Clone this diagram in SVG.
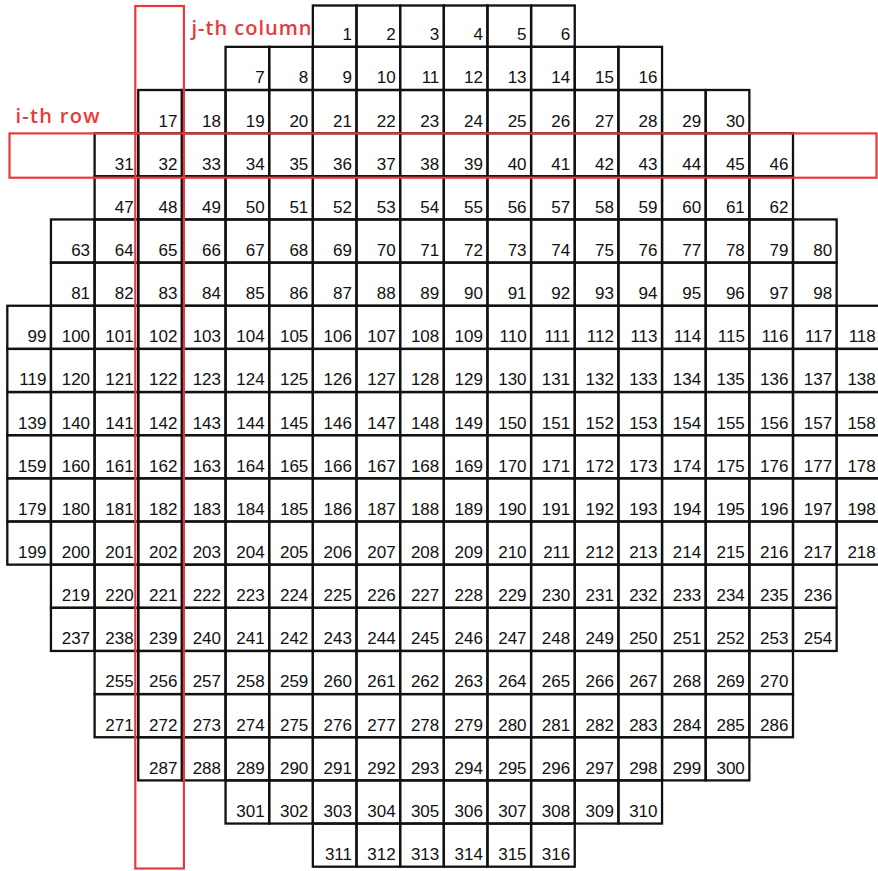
<svg xmlns="http://www.w3.org/2000/svg" width="878" height="871" viewBox="0 0 878 871">
<style>
.grid rect{fill:none;stroke:#111;stroke-width:2.3}
.grid text{font-family:"Liberation Sans",Arial,sans-serif;font-size:17px;fill:#111;text-anchor:end}
.sel{fill:none;stroke:#e63b3e;stroke-width:2.2}
.lab{font-family:"Open Sans","DejaVu Sans",sans-serif;font-weight:600;font-size:20px;fill:#e63b3e}
</style>
<rect width="878" height="871" fill="#fff"/>
<text class="lab" x="191.5" y="35" textLength="120" lengthAdjust="spacing">j-th column</text>
<text class="lab" x="15.5" y="123" textLength="84" lengthAdjust="spacing">i-th row</text>
<g class="grid">
<g id="row1" transform="translate(0 3.7)">
<g id="n1" transform="translate(312.85 0)"><rect y="1.8" width="43.65" height="41.35"/><text x="39.15" y="36.5">1</text></g>
<g id="n2" transform="translate(356.5 0)"><rect y="1.8" width="43.65" height="41.35"/><text x="39.15" y="36.5">2</text></g>
<g id="n3" transform="translate(400.15 0)"><rect y="1.8" width="43.65" height="41.35"/><text x="39.15" y="36.5">3</text></g>
<g id="n4" transform="translate(443.8 0)"><rect y="1.8" width="43.65" height="41.35"/><text x="39.15" y="36.5">4</text></g>
<g id="n5" transform="translate(487.45 0)"><rect y="1.8" width="43.65" height="41.35"/><text x="39.15" y="36.5">5</text></g>
<g id="n6" transform="translate(531.1 0)"><rect y="1.8" width="43.65" height="41.35"/><text x="39.15" y="36.5">6</text></g>
</g>
<g id="row2" transform="translate(0 46.85)">
<g id="n7" transform="translate(225.55 0)"><rect width="43.65" height="43.15"/><text x="39.15" y="36.5">7</text></g>
<g id="n8" transform="translate(269.2 0)"><rect width="43.65" height="43.15"/><text x="39.15" y="36.5">8</text></g>
<g id="n9" transform="translate(312.85 0)"><rect width="43.65" height="43.15"/><text x="39.15" y="36.5">9</text></g>
<g id="n10" transform="translate(356.5 0)"><rect width="43.65" height="43.15"/><text x="39.15" y="36.5">10</text></g>
<g id="n11" transform="translate(400.15 0)"><rect width="43.65" height="43.15"/><text x="39.15" y="36.5">11</text></g>
<g id="n12" transform="translate(443.8 0)"><rect width="43.65" height="43.15"/><text x="39.15" y="36.5">12</text></g>
<g id="n13" transform="translate(487.45 0)"><rect width="43.65" height="43.15"/><text x="39.15" y="36.5">13</text></g>
<g id="n14" transform="translate(531.1 0)"><rect width="43.65" height="43.15"/><text x="39.15" y="36.5">14</text></g>
<g id="n15" transform="translate(574.75 0)"><rect width="43.65" height="43.15"/><text x="39.15" y="36.5">15</text></g>
<g id="n16" transform="translate(618.4 0)"><rect width="43.65" height="43.15"/><text x="39.15" y="36.5">16</text></g>
</g>
<g id="row3" transform="translate(0 90)">
<g id="n17" transform="translate(138.25 0)"><rect width="43.65" height="43.15"/><text x="39.15" y="36.5">17</text></g>
<g id="n18" transform="translate(181.9 0)"><rect width="43.65" height="43.15"/><text x="39.15" y="36.5">18</text></g>
<g id="n19" transform="translate(225.55 0)"><rect width="43.65" height="43.15"/><text x="39.15" y="36.5">19</text></g>
<g id="n20" transform="translate(269.2 0)"><rect width="43.65" height="43.15"/><text x="39.15" y="36.5">20</text></g>
<g id="n21" transform="translate(312.85 0)"><rect width="43.65" height="43.15"/><text x="39.15" y="36.5">21</text></g>
<g id="n22" transform="translate(356.5 0)"><rect width="43.65" height="43.15"/><text x="39.15" y="36.5">22</text></g>
<g id="n23" transform="translate(400.15 0)"><rect width="43.65" height="43.15"/><text x="39.15" y="36.5">23</text></g>
<g id="n24" transform="translate(443.8 0)"><rect width="43.65" height="43.15"/><text x="39.15" y="36.5">24</text></g>
<g id="n25" transform="translate(487.45 0)"><rect width="43.65" height="43.15"/><text x="39.15" y="36.5">25</text></g>
<g id="n26" transform="translate(531.1 0)"><rect width="43.65" height="43.15"/><text x="39.15" y="36.5">26</text></g>
<g id="n27" transform="translate(574.75 0)"><rect width="43.65" height="43.15"/><text x="39.15" y="36.5">27</text></g>
<g id="n28" transform="translate(618.4 0)"><rect width="43.65" height="43.15"/><text x="39.15" y="36.5">28</text></g>
<g id="n29" transform="translate(662.05 0)"><rect width="43.65" height="43.15"/><text x="39.15" y="36.5">29</text></g>
<g id="n30" transform="translate(705.7 0)"><rect width="43.65" height="43.15"/><text x="39.15" y="36.5">30</text></g>
</g>
<g id="row4" transform="translate(0 133.15)">
<g id="n31" transform="translate(94.6 0)"><rect width="43.65" height="43.15"/><text x="39.15" y="36.5">31</text></g>
<g id="n32" transform="translate(138.25 0)"><rect width="43.65" height="43.15"/><text x="39.15" y="36.5">32</text></g>
<g id="n33" transform="translate(181.9 0)"><rect width="43.65" height="43.15"/><text x="39.15" y="36.5">33</text></g>
<g id="n34" transform="translate(225.55 0)"><rect width="43.65" height="43.15"/><text x="39.15" y="36.5">34</text></g>
<g id="n35" transform="translate(269.2 0)"><rect width="43.65" height="43.15"/><text x="39.15" y="36.5">35</text></g>
<g id="n36" transform="translate(312.85 0)"><rect width="43.65" height="43.15"/><text x="39.15" y="36.5">36</text></g>
<g id="n37" transform="translate(356.5 0)"><rect width="43.65" height="43.15"/><text x="39.15" y="36.5">37</text></g>
<g id="n38" transform="translate(400.15 0)"><rect width="43.65" height="43.15"/><text x="39.15" y="36.5">38</text></g>
<g id="n39" transform="translate(443.8 0)"><rect width="43.65" height="43.15"/><text x="39.15" y="36.5">39</text></g>
<g id="n40" transform="translate(487.45 0)"><rect width="43.65" height="43.15"/><text x="39.15" y="36.5">40</text></g>
<g id="n41" transform="translate(531.1 0)"><rect width="43.65" height="43.15"/><text x="39.15" y="36.5">41</text></g>
<g id="n42" transform="translate(574.75 0)"><rect width="43.65" height="43.15"/><text x="39.15" y="36.5">42</text></g>
<g id="n43" transform="translate(618.4 0)"><rect width="43.65" height="43.15"/><text x="39.15" y="36.5">43</text></g>
<g id="n44" transform="translate(662.05 0)"><rect width="43.65" height="43.15"/><text x="39.15" y="36.5">44</text></g>
<g id="n45" transform="translate(705.7 0)"><rect width="43.65" height="43.15"/><text x="39.15" y="36.5">45</text></g>
<g id="n46" transform="translate(749.35 0)"><rect width="43.65" height="43.15"/><text x="39.15" y="36.5">46</text></g>
</g>
<g id="row5" transform="translate(0 176.3)">
<g id="n47" transform="translate(94.6 0)"><rect width="43.65" height="43.15"/><text x="39.15" y="36.5">47</text></g>
<g id="n48" transform="translate(138.25 0)"><rect width="43.65" height="43.15"/><text x="39.15" y="36.5">48</text></g>
<g id="n49" transform="translate(181.9 0)"><rect width="43.65" height="43.15"/><text x="39.15" y="36.5">49</text></g>
<g id="n50" transform="translate(225.55 0)"><rect width="43.65" height="43.15"/><text x="39.15" y="36.5">50</text></g>
<g id="n51" transform="translate(269.2 0)"><rect width="43.65" height="43.15"/><text x="39.15" y="36.5">51</text></g>
<g id="n52" transform="translate(312.85 0)"><rect width="43.65" height="43.15"/><text x="39.15" y="36.5">52</text></g>
<g id="n53" transform="translate(356.5 0)"><rect width="43.65" height="43.15"/><text x="39.15" y="36.5">53</text></g>
<g id="n54" transform="translate(400.15 0)"><rect width="43.65" height="43.15"/><text x="39.15" y="36.5">54</text></g>
<g id="n55" transform="translate(443.8 0)"><rect width="43.65" height="43.15"/><text x="39.15" y="36.5">55</text></g>
<g id="n56" transform="translate(487.45 0)"><rect width="43.65" height="43.15"/><text x="39.15" y="36.5">56</text></g>
<g id="n57" transform="translate(531.1 0)"><rect width="43.65" height="43.15"/><text x="39.15" y="36.5">57</text></g>
<g id="n58" transform="translate(574.75 0)"><rect width="43.65" height="43.15"/><text x="39.15" y="36.5">58</text></g>
<g id="n59" transform="translate(618.4 0)"><rect width="43.65" height="43.15"/><text x="39.15" y="36.5">59</text></g>
<g id="n60" transform="translate(662.05 0)"><rect width="43.65" height="43.15"/><text x="39.15" y="36.5">60</text></g>
<g id="n61" transform="translate(705.7 0)"><rect width="43.65" height="43.15"/><text x="39.15" y="36.5">61</text></g>
<g id="n62" transform="translate(749.35 0)"><rect width="43.65" height="43.15"/><text x="39.15" y="36.5">62</text></g>
</g>
<g id="row6" transform="translate(0 219.45)">
<g id="n63" transform="translate(50.95 0)"><rect width="43.65" height="43.15"/><text x="39.15" y="36.5">63</text></g>
<g id="n64" transform="translate(94.6 0)"><rect width="43.65" height="43.15"/><text x="39.15" y="36.5">64</text></g>
<g id="n65" transform="translate(138.25 0)"><rect width="43.65" height="43.15"/><text x="39.15" y="36.5">65</text></g>
<g id="n66" transform="translate(181.9 0)"><rect width="43.65" height="43.15"/><text x="39.15" y="36.5">66</text></g>
<g id="n67" transform="translate(225.55 0)"><rect width="43.65" height="43.15"/><text x="39.15" y="36.5">67</text></g>
<g id="n68" transform="translate(269.2 0)"><rect width="43.65" height="43.15"/><text x="39.15" y="36.5">68</text></g>
<g id="n69" transform="translate(312.85 0)"><rect width="43.65" height="43.15"/><text x="39.15" y="36.5">69</text></g>
<g id="n70" transform="translate(356.5 0)"><rect width="43.65" height="43.15"/><text x="39.15" y="36.5">70</text></g>
<g id="n71" transform="translate(400.15 0)"><rect width="43.65" height="43.15"/><text x="39.15" y="36.5">71</text></g>
<g id="n72" transform="translate(443.8 0)"><rect width="43.65" height="43.15"/><text x="39.15" y="36.5">72</text></g>
<g id="n73" transform="translate(487.45 0)"><rect width="43.65" height="43.15"/><text x="39.15" y="36.5">73</text></g>
<g id="n74" transform="translate(531.1 0)"><rect width="43.65" height="43.15"/><text x="39.15" y="36.5">74</text></g>
<g id="n75" transform="translate(574.75 0)"><rect width="43.65" height="43.15"/><text x="39.15" y="36.5">75</text></g>
<g id="n76" transform="translate(618.4 0)"><rect width="43.65" height="43.15"/><text x="39.15" y="36.5">76</text></g>
<g id="n77" transform="translate(662.05 0)"><rect width="43.65" height="43.15"/><text x="39.15" y="36.5">77</text></g>
<g id="n78" transform="translate(705.7 0)"><rect width="43.65" height="43.15"/><text x="39.15" y="36.5">78</text></g>
<g id="n79" transform="translate(749.35 0)"><rect width="43.65" height="43.15"/><text x="39.15" y="36.5">79</text></g>
<g id="n80" transform="translate(793 0)"><rect width="43.65" height="43.15"/><text x="39.15" y="36.5">80</text></g>
</g>
<g id="row7" transform="translate(0 262.6)">
<g id="n81" transform="translate(50.95 0)"><rect width="43.65" height="43.15"/><text x="39.15" y="36.5">81</text></g>
<g id="n82" transform="translate(94.6 0)"><rect width="43.65" height="43.15"/><text x="39.15" y="36.5">82</text></g>
<g id="n83" transform="translate(138.25 0)"><rect width="43.65" height="43.15"/><text x="39.15" y="36.5">83</text></g>
<g id="n84" transform="translate(181.9 0)"><rect width="43.65" height="43.15"/><text x="39.15" y="36.5">84</text></g>
<g id="n85" transform="translate(225.55 0)"><rect width="43.65" height="43.15"/><text x="39.15" y="36.5">85</text></g>
<g id="n86" transform="translate(269.2 0)"><rect width="43.65" height="43.15"/><text x="39.15" y="36.5">86</text></g>
<g id="n87" transform="translate(312.85 0)"><rect width="43.65" height="43.15"/><text x="39.15" y="36.5">87</text></g>
<g id="n88" transform="translate(356.5 0)"><rect width="43.65" height="43.15"/><text x="39.15" y="36.5">88</text></g>
<g id="n89" transform="translate(400.15 0)"><rect width="43.65" height="43.15"/><text x="39.15" y="36.5">89</text></g>
<g id="n90" transform="translate(443.8 0)"><rect width="43.65" height="43.15"/><text x="39.15" y="36.5">90</text></g>
<g id="n91" transform="translate(487.45 0)"><rect width="43.65" height="43.15"/><text x="39.15" y="36.5">91</text></g>
<g id="n92" transform="translate(531.1 0)"><rect width="43.65" height="43.15"/><text x="39.15" y="36.5">92</text></g>
<g id="n93" transform="translate(574.75 0)"><rect width="43.65" height="43.15"/><text x="39.15" y="36.5">93</text></g>
<g id="n94" transform="translate(618.4 0)"><rect width="43.65" height="43.15"/><text x="39.15" y="36.5">94</text></g>
<g id="n95" transform="translate(662.05 0)"><rect width="43.65" height="43.15"/><text x="39.15" y="36.5">95</text></g>
<g id="n96" transform="translate(705.7 0)"><rect width="43.65" height="43.15"/><text x="39.15" y="36.5">96</text></g>
<g id="n97" transform="translate(749.35 0)"><rect width="43.65" height="43.15"/><text x="39.15" y="36.5">97</text></g>
<g id="n98" transform="translate(793 0)"><rect width="43.65" height="43.15"/><text x="39.15" y="36.5">98</text></g>
</g>
<g id="row8" transform="translate(0 305.75)">
<g id="n99" transform="translate(7.3 0)"><rect width="43.65" height="43.15"/><text x="39.15" y="36.5">99</text></g>
<g id="n100" transform="translate(50.95 0)"><rect width="43.65" height="43.15"/><text x="39.15" y="36.5">100</text></g>
<g id="n101" transform="translate(94.6 0)"><rect width="43.65" height="43.15"/><text x="39.15" y="36.5">101</text></g>
<g id="n102" transform="translate(138.25 0)"><rect width="43.65" height="43.15"/><text x="39.15" y="36.5">102</text></g>
<g id="n103" transform="translate(181.9 0)"><rect width="43.65" height="43.15"/><text x="39.15" y="36.5">103</text></g>
<g id="n104" transform="translate(225.55 0)"><rect width="43.65" height="43.15"/><text x="39.15" y="36.5">104</text></g>
<g id="n105" transform="translate(269.2 0)"><rect width="43.65" height="43.15"/><text x="39.15" y="36.5">105</text></g>
<g id="n106" transform="translate(312.85 0)"><rect width="43.65" height="43.15"/><text x="39.15" y="36.5">106</text></g>
<g id="n107" transform="translate(356.5 0)"><rect width="43.65" height="43.15"/><text x="39.15" y="36.5">107</text></g>
<g id="n108" transform="translate(400.15 0)"><rect width="43.65" height="43.15"/><text x="39.15" y="36.5">108</text></g>
<g id="n109" transform="translate(443.8 0)"><rect width="43.65" height="43.15"/><text x="39.15" y="36.5">109</text></g>
<g id="n110" transform="translate(487.45 0)"><rect width="43.65" height="43.15"/><text x="39.15" y="36.5">110</text></g>
<g id="n111" transform="translate(531.1 0)"><rect width="43.65" height="43.15"/><text x="39.15" y="36.5">111</text></g>
<g id="n112" transform="translate(574.75 0)"><rect width="43.65" height="43.15"/><text x="39.15" y="36.5">112</text></g>
<g id="n113" transform="translate(618.4 0)"><rect width="43.65" height="43.15"/><text x="39.15" y="36.5">113</text></g>
<g id="n114" transform="translate(662.05 0)"><rect width="43.65" height="43.15"/><text x="39.15" y="36.5">114</text></g>
<g id="n115" transform="translate(705.7 0)"><rect width="43.65" height="43.15"/><text x="39.15" y="36.5">115</text></g>
<g id="n116" transform="translate(749.35 0)"><rect width="43.65" height="43.15"/><text x="39.15" y="36.5">116</text></g>
<g id="n117" transform="translate(793 0)"><rect width="43.65" height="43.15"/><text x="39.15" y="36.5">117</text></g>
<g id="n118" transform="translate(836.65 0)"><rect width="43.65" height="43.15"/><text x="39.15" y="36.5">118</text></g>
</g>
<g id="row9" transform="translate(0 348.9)">
<g id="n119" transform="translate(7.3 0)"><rect width="43.65" height="43.15"/><text x="39.15" y="36.5">119</text></g>
<g id="n120" transform="translate(50.95 0)"><rect width="43.65" height="43.15"/><text x="39.15" y="36.5">120</text></g>
<g id="n121" transform="translate(94.6 0)"><rect width="43.65" height="43.15"/><text x="39.15" y="36.5">121</text></g>
<g id="n122" transform="translate(138.25 0)"><rect width="43.65" height="43.15"/><text x="39.15" y="36.5">122</text></g>
<g id="n123" transform="translate(181.9 0)"><rect width="43.65" height="43.15"/><text x="39.15" y="36.5">123</text></g>
<g id="n124" transform="translate(225.55 0)"><rect width="43.65" height="43.15"/><text x="39.15" y="36.5">124</text></g>
<g id="n125" transform="translate(269.2 0)"><rect width="43.65" height="43.15"/><text x="39.15" y="36.5">125</text></g>
<g id="n126" transform="translate(312.85 0)"><rect width="43.65" height="43.15"/><text x="39.15" y="36.5">126</text></g>
<g id="n127" transform="translate(356.5 0)"><rect width="43.65" height="43.15"/><text x="39.15" y="36.5">127</text></g>
<g id="n128" transform="translate(400.15 0)"><rect width="43.65" height="43.15"/><text x="39.15" y="36.5">128</text></g>
<g id="n129" transform="translate(443.8 0)"><rect width="43.65" height="43.15"/><text x="39.15" y="36.5">129</text></g>
<g id="n130" transform="translate(487.45 0)"><rect width="43.65" height="43.15"/><text x="39.15" y="36.5">130</text></g>
<g id="n131" transform="translate(531.1 0)"><rect width="43.65" height="43.15"/><text x="39.15" y="36.5">131</text></g>
<g id="n132" transform="translate(574.75 0)"><rect width="43.65" height="43.15"/><text x="39.15" y="36.5">132</text></g>
<g id="n133" transform="translate(618.4 0)"><rect width="43.65" height="43.15"/><text x="39.15" y="36.5">133</text></g>
<g id="n134" transform="translate(662.05 0)"><rect width="43.65" height="43.15"/><text x="39.15" y="36.5">134</text></g>
<g id="n135" transform="translate(705.7 0)"><rect width="43.65" height="43.15"/><text x="39.15" y="36.5">135</text></g>
<g id="n136" transform="translate(749.35 0)"><rect width="43.65" height="43.15"/><text x="39.15" y="36.5">136</text></g>
<g id="n137" transform="translate(793 0)"><rect width="43.65" height="43.15"/><text x="39.15" y="36.5">137</text></g>
<g id="n138" transform="translate(836.65 0)"><rect width="43.65" height="43.15"/><text x="39.15" y="36.5">138</text></g>
</g>
<g id="row10" transform="translate(0 392.05)">
<g id="n139" transform="translate(7.3 0)"><rect width="43.65" height="43.15"/><text x="39.15" y="36.5">139</text></g>
<g id="n140" transform="translate(50.95 0)"><rect width="43.65" height="43.15"/><text x="39.15" y="36.5">140</text></g>
<g id="n141" transform="translate(94.6 0)"><rect width="43.65" height="43.15"/><text x="39.15" y="36.5">141</text></g>
<g id="n142" transform="translate(138.25 0)"><rect width="43.65" height="43.15"/><text x="39.15" y="36.5">142</text></g>
<g id="n143" transform="translate(181.9 0)"><rect width="43.65" height="43.15"/><text x="39.15" y="36.5">143</text></g>
<g id="n144" transform="translate(225.55 0)"><rect width="43.65" height="43.15"/><text x="39.15" y="36.5">144</text></g>
<g id="n145" transform="translate(269.2 0)"><rect width="43.65" height="43.15"/><text x="39.15" y="36.5">145</text></g>
<g id="n146" transform="translate(312.85 0)"><rect width="43.65" height="43.15"/><text x="39.15" y="36.5">146</text></g>
<g id="n147" transform="translate(356.5 0)"><rect width="43.65" height="43.15"/><text x="39.15" y="36.5">147</text></g>
<g id="n148" transform="translate(400.15 0)"><rect width="43.65" height="43.15"/><text x="39.15" y="36.5">148</text></g>
<g id="n149" transform="translate(443.8 0)"><rect width="43.65" height="43.15"/><text x="39.15" y="36.5">149</text></g>
<g id="n150" transform="translate(487.45 0)"><rect width="43.65" height="43.15"/><text x="39.15" y="36.5">150</text></g>
<g id="n151" transform="translate(531.1 0)"><rect width="43.65" height="43.15"/><text x="39.15" y="36.5">151</text></g>
<g id="n152" transform="translate(574.75 0)"><rect width="43.65" height="43.15"/><text x="39.15" y="36.5">152</text></g>
<g id="n153" transform="translate(618.4 0)"><rect width="43.65" height="43.15"/><text x="39.15" y="36.5">153</text></g>
<g id="n154" transform="translate(662.05 0)"><rect width="43.65" height="43.15"/><text x="39.15" y="36.5">154</text></g>
<g id="n155" transform="translate(705.7 0)"><rect width="43.65" height="43.15"/><text x="39.15" y="36.5">155</text></g>
<g id="n156" transform="translate(749.35 0)"><rect width="43.65" height="43.15"/><text x="39.15" y="36.5">156</text></g>
<g id="n157" transform="translate(793 0)"><rect width="43.65" height="43.15"/><text x="39.15" y="36.5">157</text></g>
<g id="n158" transform="translate(836.65 0)"><rect width="43.65" height="43.15"/><text x="39.15" y="36.5">158</text></g>
</g>
<g id="row11" transform="translate(0 435.2)">
<g id="n159" transform="translate(7.3 0)"><rect width="43.65" height="43.15"/><text x="39.15" y="36.5">159</text></g>
<g id="n160" transform="translate(50.95 0)"><rect width="43.65" height="43.15"/><text x="39.15" y="36.5">160</text></g>
<g id="n161" transform="translate(94.6 0)"><rect width="43.65" height="43.15"/><text x="39.15" y="36.5">161</text></g>
<g id="n162" transform="translate(138.25 0)"><rect width="43.65" height="43.15"/><text x="39.15" y="36.5">162</text></g>
<g id="n163" transform="translate(181.9 0)"><rect width="43.65" height="43.15"/><text x="39.15" y="36.5">163</text></g>
<g id="n164" transform="translate(225.55 0)"><rect width="43.65" height="43.15"/><text x="39.15" y="36.5">164</text></g>
<g id="n165" transform="translate(269.2 0)"><rect width="43.65" height="43.15"/><text x="39.15" y="36.5">165</text></g>
<g id="n166" transform="translate(312.85 0)"><rect width="43.65" height="43.15"/><text x="39.15" y="36.5">166</text></g>
<g id="n167" transform="translate(356.5 0)"><rect width="43.65" height="43.15"/><text x="39.15" y="36.5">167</text></g>
<g id="n168" transform="translate(400.15 0)"><rect width="43.65" height="43.15"/><text x="39.15" y="36.5">168</text></g>
<g id="n169" transform="translate(443.8 0)"><rect width="43.65" height="43.15"/><text x="39.15" y="36.5">169</text></g>
<g id="n170" transform="translate(487.45 0)"><rect width="43.65" height="43.15"/><text x="39.15" y="36.5">170</text></g>
<g id="n171" transform="translate(531.1 0)"><rect width="43.65" height="43.15"/><text x="39.15" y="36.5">171</text></g>
<g id="n172" transform="translate(574.75 0)"><rect width="43.65" height="43.15"/><text x="39.15" y="36.5">172</text></g>
<g id="n173" transform="translate(618.4 0)"><rect width="43.65" height="43.15"/><text x="39.15" y="36.5">173</text></g>
<g id="n174" transform="translate(662.05 0)"><rect width="43.65" height="43.15"/><text x="39.15" y="36.5">174</text></g>
<g id="n175" transform="translate(705.7 0)"><rect width="43.65" height="43.15"/><text x="39.15" y="36.5">175</text></g>
<g id="n176" transform="translate(749.35 0)"><rect width="43.65" height="43.15"/><text x="39.15" y="36.5">176</text></g>
<g id="n177" transform="translate(793 0)"><rect width="43.65" height="43.15"/><text x="39.15" y="36.5">177</text></g>
<g id="n178" transform="translate(836.65 0)"><rect width="43.65" height="43.15"/><text x="39.15" y="36.5">178</text></g>
</g>
<g id="row12" transform="translate(0 478.35)">
<g id="n179" transform="translate(7.3 0)"><rect width="43.65" height="43.15"/><text x="39.15" y="36.5">179</text></g>
<g id="n180" transform="translate(50.95 0)"><rect width="43.65" height="43.15"/><text x="39.15" y="36.5">180</text></g>
<g id="n181" transform="translate(94.6 0)"><rect width="43.65" height="43.15"/><text x="39.15" y="36.5">181</text></g>
<g id="n182" transform="translate(138.25 0)"><rect width="43.65" height="43.15"/><text x="39.15" y="36.5">182</text></g>
<g id="n183" transform="translate(181.9 0)"><rect width="43.65" height="43.15"/><text x="39.15" y="36.5">183</text></g>
<g id="n184" transform="translate(225.55 0)"><rect width="43.65" height="43.15"/><text x="39.15" y="36.5">184</text></g>
<g id="n185" transform="translate(269.2 0)"><rect width="43.65" height="43.15"/><text x="39.15" y="36.5">185</text></g>
<g id="n186" transform="translate(312.85 0)"><rect width="43.65" height="43.15"/><text x="39.15" y="36.5">186</text></g>
<g id="n187" transform="translate(356.5 0)"><rect width="43.65" height="43.15"/><text x="39.15" y="36.5">187</text></g>
<g id="n188" transform="translate(400.15 0)"><rect width="43.65" height="43.15"/><text x="39.15" y="36.5">188</text></g>
<g id="n189" transform="translate(443.8 0)"><rect width="43.65" height="43.15"/><text x="39.15" y="36.5">189</text></g>
<g id="n190" transform="translate(487.45 0)"><rect width="43.65" height="43.15"/><text x="39.15" y="36.5">190</text></g>
<g id="n191" transform="translate(531.1 0)"><rect width="43.65" height="43.15"/><text x="39.15" y="36.5">191</text></g>
<g id="n192" transform="translate(574.75 0)"><rect width="43.65" height="43.15"/><text x="39.15" y="36.5">192</text></g>
<g id="n193" transform="translate(618.4 0)"><rect width="43.65" height="43.15"/><text x="39.15" y="36.5">193</text></g>
<g id="n194" transform="translate(662.05 0)"><rect width="43.65" height="43.15"/><text x="39.15" y="36.5">194</text></g>
<g id="n195" transform="translate(705.7 0)"><rect width="43.65" height="43.15"/><text x="39.15" y="36.5">195</text></g>
<g id="n196" transform="translate(749.35 0)"><rect width="43.65" height="43.15"/><text x="39.15" y="36.5">196</text></g>
<g id="n197" transform="translate(793 0)"><rect width="43.65" height="43.15"/><text x="39.15" y="36.5">197</text></g>
<g id="n198" transform="translate(836.65 0)"><rect width="43.65" height="43.15"/><text x="39.15" y="36.5">198</text></g>
</g>
<g id="row13" transform="translate(0 521.5)">
<g id="n199" transform="translate(7.3 0)"><rect width="43.65" height="43.15"/><text x="39.15" y="36.5">199</text></g>
<g id="n200" transform="translate(50.95 0)"><rect width="43.65" height="43.15"/><text x="39.15" y="36.5">200</text></g>
<g id="n201" transform="translate(94.6 0)"><rect width="43.65" height="43.15"/><text x="39.15" y="36.5">201</text></g>
<g id="n202" transform="translate(138.25 0)"><rect width="43.65" height="43.15"/><text x="39.15" y="36.5">202</text></g>
<g id="n203" transform="translate(181.9 0)"><rect width="43.65" height="43.15"/><text x="39.15" y="36.5">203</text></g>
<g id="n204" transform="translate(225.55 0)"><rect width="43.65" height="43.15"/><text x="39.15" y="36.5">204</text></g>
<g id="n205" transform="translate(269.2 0)"><rect width="43.65" height="43.15"/><text x="39.15" y="36.5">205</text></g>
<g id="n206" transform="translate(312.85 0)"><rect width="43.65" height="43.15"/><text x="39.15" y="36.5">206</text></g>
<g id="n207" transform="translate(356.5 0)"><rect width="43.65" height="43.15"/><text x="39.15" y="36.5">207</text></g>
<g id="n208" transform="translate(400.15 0)"><rect width="43.65" height="43.15"/><text x="39.15" y="36.5">208</text></g>
<g id="n209" transform="translate(443.8 0)"><rect width="43.65" height="43.15"/><text x="39.15" y="36.5">209</text></g>
<g id="n210" transform="translate(487.45 0)"><rect width="43.65" height="43.15"/><text x="39.15" y="36.5">210</text></g>
<g id="n211" transform="translate(531.1 0)"><rect width="43.65" height="43.15"/><text x="39.15" y="36.5">211</text></g>
<g id="n212" transform="translate(574.75 0)"><rect width="43.65" height="43.15"/><text x="39.15" y="36.5">212</text></g>
<g id="n213" transform="translate(618.4 0)"><rect width="43.65" height="43.15"/><text x="39.15" y="36.5">213</text></g>
<g id="n214" transform="translate(662.05 0)"><rect width="43.65" height="43.15"/><text x="39.15" y="36.5">214</text></g>
<g id="n215" transform="translate(705.7 0)"><rect width="43.65" height="43.15"/><text x="39.15" y="36.5">215</text></g>
<g id="n216" transform="translate(749.35 0)"><rect width="43.65" height="43.15"/><text x="39.15" y="36.5">216</text></g>
<g id="n217" transform="translate(793 0)"><rect width="43.65" height="43.15"/><text x="39.15" y="36.5">217</text></g>
<g id="n218" transform="translate(836.65 0)"><rect width="43.65" height="43.15"/><text x="39.15" y="36.5">218</text></g>
</g>
<g id="row14" transform="translate(0 564.65)">
<g id="n219" transform="translate(50.95 0)"><rect width="43.65" height="43.15"/><text x="39.15" y="36.5">219</text></g>
<g id="n220" transform="translate(94.6 0)"><rect width="43.65" height="43.15"/><text x="39.15" y="36.5">220</text></g>
<g id="n221" transform="translate(138.25 0)"><rect width="43.65" height="43.15"/><text x="39.15" y="36.5">221</text></g>
<g id="n222" transform="translate(181.9 0)"><rect width="43.65" height="43.15"/><text x="39.15" y="36.5">222</text></g>
<g id="n223" transform="translate(225.55 0)"><rect width="43.65" height="43.15"/><text x="39.15" y="36.5">223</text></g>
<g id="n224" transform="translate(269.2 0)"><rect width="43.65" height="43.15"/><text x="39.15" y="36.5">224</text></g>
<g id="n225" transform="translate(312.85 0)"><rect width="43.65" height="43.15"/><text x="39.15" y="36.5">225</text></g>
<g id="n226" transform="translate(356.5 0)"><rect width="43.65" height="43.15"/><text x="39.15" y="36.5">226</text></g>
<g id="n227" transform="translate(400.15 0)"><rect width="43.65" height="43.15"/><text x="39.15" y="36.5">227</text></g>
<g id="n228" transform="translate(443.8 0)"><rect width="43.65" height="43.15"/><text x="39.15" y="36.5">228</text></g>
<g id="n229" transform="translate(487.45 0)"><rect width="43.65" height="43.15"/><text x="39.15" y="36.5">229</text></g>
<g id="n230" transform="translate(531.1 0)"><rect width="43.65" height="43.15"/><text x="39.15" y="36.5">230</text></g>
<g id="n231" transform="translate(574.75 0)"><rect width="43.65" height="43.15"/><text x="39.15" y="36.5">231</text></g>
<g id="n232" transform="translate(618.4 0)"><rect width="43.65" height="43.15"/><text x="39.15" y="36.5">232</text></g>
<g id="n233" transform="translate(662.05 0)"><rect width="43.65" height="43.15"/><text x="39.15" y="36.5">233</text></g>
<g id="n234" transform="translate(705.7 0)"><rect width="43.65" height="43.15"/><text x="39.15" y="36.5">234</text></g>
<g id="n235" transform="translate(749.35 0)"><rect width="43.65" height="43.15"/><text x="39.15" y="36.5">235</text></g>
<g id="n236" transform="translate(793 0)"><rect width="43.65" height="43.15"/><text x="39.15" y="36.5">236</text></g>
</g>
<g id="row15" transform="translate(0 607.8)">
<g id="n237" transform="translate(50.95 0)"><rect width="43.65" height="43.15"/><text x="39.15" y="36.5">237</text></g>
<g id="n238" transform="translate(94.6 0)"><rect width="43.65" height="43.15"/><text x="39.15" y="36.5">238</text></g>
<g id="n239" transform="translate(138.25 0)"><rect width="43.65" height="43.15"/><text x="39.15" y="36.5">239</text></g>
<g id="n240" transform="translate(181.9 0)"><rect width="43.65" height="43.15"/><text x="39.15" y="36.5">240</text></g>
<g id="n241" transform="translate(225.55 0)"><rect width="43.65" height="43.15"/><text x="39.15" y="36.5">241</text></g>
<g id="n242" transform="translate(269.2 0)"><rect width="43.65" height="43.15"/><text x="39.15" y="36.5">242</text></g>
<g id="n243" transform="translate(312.85 0)"><rect width="43.65" height="43.15"/><text x="39.15" y="36.5">243</text></g>
<g id="n244" transform="translate(356.5 0)"><rect width="43.65" height="43.15"/><text x="39.15" y="36.5">244</text></g>
<g id="n245" transform="translate(400.15 0)"><rect width="43.65" height="43.15"/><text x="39.15" y="36.5">245</text></g>
<g id="n246" transform="translate(443.8 0)"><rect width="43.65" height="43.15"/><text x="39.15" y="36.5">246</text></g>
<g id="n247" transform="translate(487.45 0)"><rect width="43.65" height="43.15"/><text x="39.15" y="36.5">247</text></g>
<g id="n248" transform="translate(531.1 0)"><rect width="43.65" height="43.15"/><text x="39.15" y="36.5">248</text></g>
<g id="n249" transform="translate(574.75 0)"><rect width="43.65" height="43.15"/><text x="39.15" y="36.5">249</text></g>
<g id="n250" transform="translate(618.4 0)"><rect width="43.65" height="43.15"/><text x="39.15" y="36.5">250</text></g>
<g id="n251" transform="translate(662.05 0)"><rect width="43.65" height="43.15"/><text x="39.15" y="36.5">251</text></g>
<g id="n252" transform="translate(705.7 0)"><rect width="43.65" height="43.15"/><text x="39.15" y="36.5">252</text></g>
<g id="n253" transform="translate(749.35 0)"><rect width="43.65" height="43.15"/><text x="39.15" y="36.5">253</text></g>
<g id="n254" transform="translate(793 0)"><rect width="43.65" height="43.15"/><text x="39.15" y="36.5">254</text></g>
</g>
<g id="row16" transform="translate(0 650.95)">
<g id="n255" transform="translate(94.6 0)"><rect width="43.65" height="43.15"/><text x="39.15" y="36.5">255</text></g>
<g id="n256" transform="translate(138.25 0)"><rect width="43.65" height="43.15"/><text x="39.15" y="36.5">256</text></g>
<g id="n257" transform="translate(181.9 0)"><rect width="43.65" height="43.15"/><text x="39.15" y="36.5">257</text></g>
<g id="n258" transform="translate(225.55 0)"><rect width="43.65" height="43.15"/><text x="39.15" y="36.5">258</text></g>
<g id="n259" transform="translate(269.2 0)"><rect width="43.65" height="43.15"/><text x="39.15" y="36.5">259</text></g>
<g id="n260" transform="translate(312.85 0)"><rect width="43.65" height="43.15"/><text x="39.15" y="36.5">260</text></g>
<g id="n261" transform="translate(356.5 0)"><rect width="43.65" height="43.15"/><text x="39.15" y="36.5">261</text></g>
<g id="n262" transform="translate(400.15 0)"><rect width="43.65" height="43.15"/><text x="39.15" y="36.5">262</text></g>
<g id="n263" transform="translate(443.8 0)"><rect width="43.65" height="43.15"/><text x="39.15" y="36.5">263</text></g>
<g id="n264" transform="translate(487.45 0)"><rect width="43.65" height="43.15"/><text x="39.15" y="36.5">264</text></g>
<g id="n265" transform="translate(531.1 0)"><rect width="43.65" height="43.15"/><text x="39.15" y="36.5">265</text></g>
<g id="n266" transform="translate(574.75 0)"><rect width="43.65" height="43.15"/><text x="39.15" y="36.5">266</text></g>
<g id="n267" transform="translate(618.4 0)"><rect width="43.65" height="43.15"/><text x="39.15" y="36.5">267</text></g>
<g id="n268" transform="translate(662.05 0)"><rect width="43.65" height="43.15"/><text x="39.15" y="36.5">268</text></g>
<g id="n269" transform="translate(705.7 0)"><rect width="43.65" height="43.15"/><text x="39.15" y="36.5">269</text></g>
<g id="n270" transform="translate(749.35 0)"><rect width="43.65" height="43.15"/><text x="39.15" y="36.5">270</text></g>
</g>
<g id="row17" transform="translate(0 694.1)">
<g id="n271" transform="translate(94.6 0)"><rect width="43.65" height="43.15"/><text x="39.15" y="36.5">271</text></g>
<g id="n272" transform="translate(138.25 0)"><rect width="43.65" height="43.15"/><text x="39.15" y="36.5">272</text></g>
<g id="n273" transform="translate(181.9 0)"><rect width="43.65" height="43.15"/><text x="39.15" y="36.5">273</text></g>
<g id="n274" transform="translate(225.55 0)"><rect width="43.65" height="43.15"/><text x="39.15" y="36.5">274</text></g>
<g id="n275" transform="translate(269.2 0)"><rect width="43.65" height="43.15"/><text x="39.15" y="36.5">275</text></g>
<g id="n276" transform="translate(312.85 0)"><rect width="43.65" height="43.15"/><text x="39.15" y="36.5">276</text></g>
<g id="n277" transform="translate(356.5 0)"><rect width="43.65" height="43.15"/><text x="39.15" y="36.5">277</text></g>
<g id="n278" transform="translate(400.15 0)"><rect width="43.65" height="43.15"/><text x="39.15" y="36.5">278</text></g>
<g id="n279" transform="translate(443.8 0)"><rect width="43.65" height="43.15"/><text x="39.15" y="36.5">279</text></g>
<g id="n280" transform="translate(487.45 0)"><rect width="43.65" height="43.15"/><text x="39.15" y="36.5">280</text></g>
<g id="n281" transform="translate(531.1 0)"><rect width="43.65" height="43.15"/><text x="39.15" y="36.5">281</text></g>
<g id="n282" transform="translate(574.75 0)"><rect width="43.65" height="43.15"/><text x="39.15" y="36.5">282</text></g>
<g id="n283" transform="translate(618.4 0)"><rect width="43.65" height="43.15"/><text x="39.15" y="36.5">283</text></g>
<g id="n284" transform="translate(662.05 0)"><rect width="43.65" height="43.15"/><text x="39.15" y="36.5">284</text></g>
<g id="n285" transform="translate(705.7 0)"><rect width="43.65" height="43.15"/><text x="39.15" y="36.5">285</text></g>
<g id="n286" transform="translate(749.35 0)"><rect width="43.65" height="43.15"/><text x="39.15" y="36.5">286</text></g>
</g>
<g id="row18" transform="translate(0 737.25)">
<g id="n287" transform="translate(138.25 0)"><rect width="43.65" height="43.15"/><text x="39.15" y="36.5">287</text></g>
<g id="n288" transform="translate(181.9 0)"><rect width="43.65" height="43.15"/><text x="39.15" y="36.5">288</text></g>
<g id="n289" transform="translate(225.55 0)"><rect width="43.65" height="43.15"/><text x="39.15" y="36.5">289</text></g>
<g id="n290" transform="translate(269.2 0)"><rect width="43.65" height="43.15"/><text x="39.15" y="36.5">290</text></g>
<g id="n291" transform="translate(312.85 0)"><rect width="43.65" height="43.15"/><text x="39.15" y="36.5">291</text></g>
<g id="n292" transform="translate(356.5 0)"><rect width="43.65" height="43.15"/><text x="39.15" y="36.5">292</text></g>
<g id="n293" transform="translate(400.15 0)"><rect width="43.65" height="43.15"/><text x="39.15" y="36.5">293</text></g>
<g id="n294" transform="translate(443.8 0)"><rect width="43.65" height="43.15"/><text x="39.15" y="36.5">294</text></g>
<g id="n295" transform="translate(487.45 0)"><rect width="43.65" height="43.15"/><text x="39.15" y="36.5">295</text></g>
<g id="n296" transform="translate(531.1 0)"><rect width="43.65" height="43.15"/><text x="39.15" y="36.5">296</text></g>
<g id="n297" transform="translate(574.75 0)"><rect width="43.65" height="43.15"/><text x="39.15" y="36.5">297</text></g>
<g id="n298" transform="translate(618.4 0)"><rect width="43.65" height="43.15"/><text x="39.15" y="36.5">298</text></g>
<g id="n299" transform="translate(662.05 0)"><rect width="43.65" height="43.15"/><text x="39.15" y="36.5">299</text></g>
<g id="n300" transform="translate(705.7 0)"><rect width="43.65" height="43.15"/><text x="39.15" y="36.5">300</text></g>
</g>
<g id="row19" transform="translate(0 780.4)">
<g id="n301" transform="translate(225.55 0)"><rect width="43.65" height="43.15"/><text x="39.15" y="36.5">301</text></g>
<g id="n302" transform="translate(269.2 0)"><rect width="43.65" height="43.15"/><text x="39.15" y="36.5">302</text></g>
<g id="n303" transform="translate(312.85 0)"><rect width="43.65" height="43.15"/><text x="39.15" y="36.5">303</text></g>
<g id="n304" transform="translate(356.5 0)"><rect width="43.65" height="43.15"/><text x="39.15" y="36.5">304</text></g>
<g id="n305" transform="translate(400.15 0)"><rect width="43.65" height="43.15"/><text x="39.15" y="36.5">305</text></g>
<g id="n306" transform="translate(443.8 0)"><rect width="43.65" height="43.15"/><text x="39.15" y="36.5">306</text></g>
<g id="n307" transform="translate(487.45 0)"><rect width="43.65" height="43.15"/><text x="39.15" y="36.5">307</text></g>
<g id="n308" transform="translate(531.1 0)"><rect width="43.65" height="43.15"/><text x="39.15" y="36.5">308</text></g>
<g id="n309" transform="translate(574.75 0)"><rect width="43.65" height="43.15"/><text x="39.15" y="36.5">309</text></g>
<g id="n310" transform="translate(618.4 0)"><rect width="43.65" height="43.15"/><text x="39.15" y="36.5">310</text></g>
</g>
<g id="row20" transform="translate(0 823.55)">
<g id="n311" transform="translate(312.85 0)"><rect width="43.65" height="43.15"/><text x="39.15" y="36.5">311</text></g>
<g id="n312" transform="translate(356.5 0)"><rect width="43.65" height="43.15"/><text x="39.15" y="36.5">312</text></g>
<g id="n313" transform="translate(400.15 0)"><rect width="43.65" height="43.15"/><text x="39.15" y="36.5">313</text></g>
<g id="n314" transform="translate(443.8 0)"><rect width="43.65" height="43.15"/><text x="39.15" y="36.5">314</text></g>
<g id="n315" transform="translate(487.45 0)"><rect width="43.65" height="43.15"/><text x="39.15" y="36.5">315</text></g>
<g id="n316" transform="translate(531.1 0)"><rect width="43.65" height="43.15"/><text x="39.15" y="36.5">316</text></g>
</g>
</g>
<g id="highlights">
<rect id="jcol" class="sel" x="135.3" y="6" width="48.6" height="862.5"/>
<rect id="irow" class="sel" x="9.5" y="133.4" width="867" height="44.3"/>
</g>
</svg>
